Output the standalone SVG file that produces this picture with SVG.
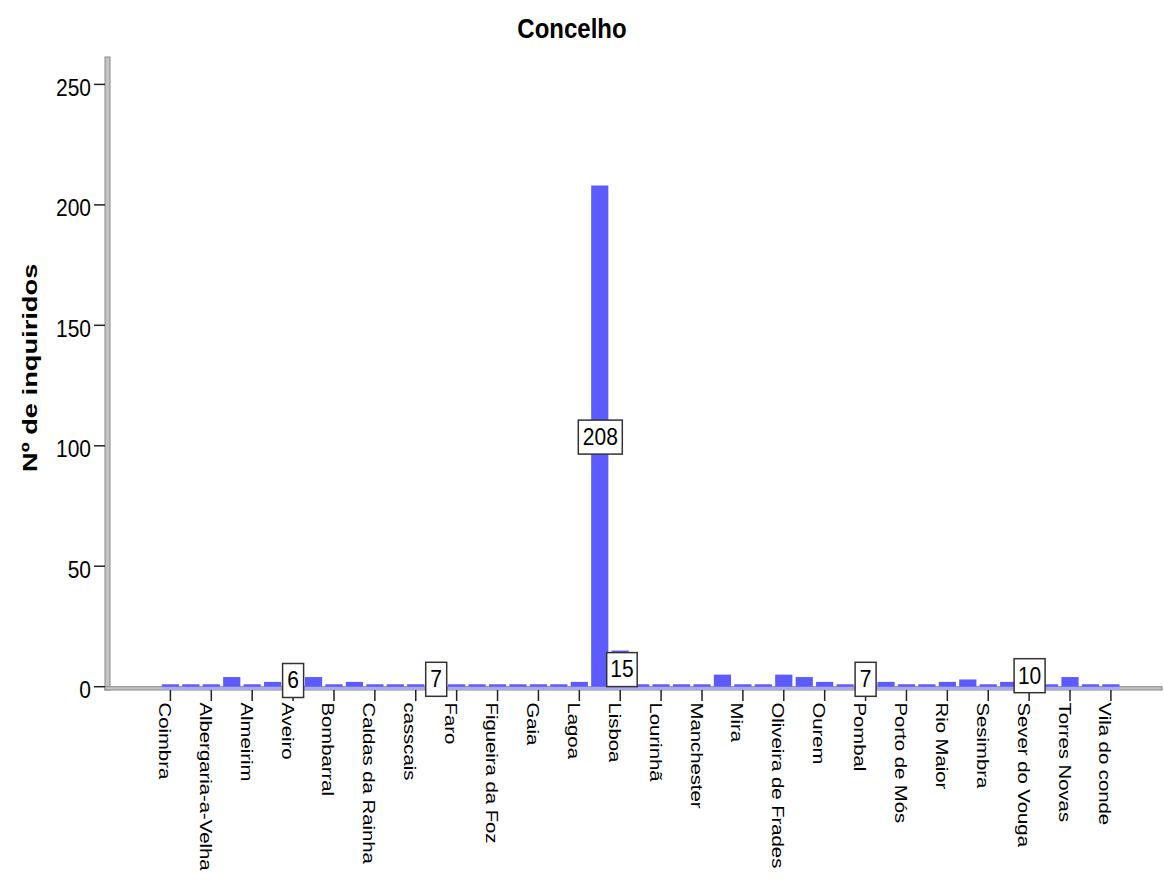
<svg xmlns="http://www.w3.org/2000/svg" width="1164" height="880" viewBox="0 0 1164 880">
<style>
.t{font-family:"Liberation Sans",Arial,sans-serif;fill:#000}
.bar{fill:#5b5bff}
.tk{stroke:#222;stroke-width:1.5}
.ax{fill:#c4c4c4;stroke:#888;stroke-width:1}
.box{fill:#fff;stroke:#333;stroke-width:1.5}
.xl{font-size:16px}
.yl{font-size:21px;text-anchor:end}
.bl{font-size:21px;text-anchor:middle}
</style>
<rect width="1164" height="880" fill="#fff"/>
<g id="title"><text class="t" transform="translate(572,38) scale(1,1.18)" font-size="24" font-weight="bold" text-anchor="middle">Concelho</text></g>
<g id="y-title"><text class="t" transform="translate(37,472) rotate(-90) scale(1.33,1)" font-size="20.5" font-weight="bold">Nº de inquiridos</text></g>
<g id="axes">
<rect class="ax" x="105" y="57" width="5" height="633"/>
<rect class="ax" x="105" y="686.7" width="1057" height="3.3"/>
<g id="y-ticks">
<line class="tk" x1="94" y1="686.7" x2="105" y2="686.7"/>
<line class="tk" x1="94" y1="566.2" x2="105" y2="566.2"/>
<line class="tk" x1="94" y1="445.8" x2="105" y2="445.8"/>
<line class="tk" x1="94" y1="325.3" x2="105" y2="325.3"/>
<line class="tk" x1="94" y1="204.9" x2="105" y2="204.9"/>
<line class="tk" x1="94" y1="84.4" x2="105" y2="84.4"/>
<text class="t yl" transform="translate(91,698.2) scale(1,1.1)">0</text>
<text class="t yl" transform="translate(91,577.7) scale(1,1.1)">50</text>
<text class="t yl" transform="translate(91,457.3) scale(1,1.1)">100</text>
<text class="t yl" transform="translate(91,336.8) scale(1,1.1)">150</text>
<text class="t yl" transform="translate(91,216.4) scale(1,1.1)">200</text>
<text class="t yl" transform="translate(91,95.9) scale(1,1.1)">250</text>
</g>
</g>
<g id="bars">
<rect class="bar" x="161.8" y="684.29" width="17.2" height="2.41"/>
<rect class="bar" x="182.25" y="684.29" width="17.2" height="2.41"/>
<rect class="bar" x="202.69" y="684.29" width="17.2" height="2.41"/>
<rect class="bar" x="223.14" y="677.06" width="17.2" height="9.64"/>
<rect class="bar" x="243.58" y="684.29" width="17.2" height="2.41"/>
<rect class="bar" x="264.03" y="681.88" width="17.2" height="4.82"/>
<rect class="bar" x="284.48" y="672.24" width="17.2" height="14.46"/>
<rect class="bar" x="304.92" y="677.06" width="17.2" height="9.64"/>
<rect class="bar" x="325.37" y="684.29" width="17.2" height="2.41"/>
<rect class="bar" x="345.81" y="681.88" width="17.2" height="4.82"/>
<rect class="bar" x="366.26" y="684.29" width="17.2" height="2.41"/>
<rect class="bar" x="386.71" y="684.29" width="17.2" height="2.41"/>
<rect class="bar" x="407.15" y="684.29" width="17.2" height="2.41"/>
<rect class="bar" x="427.60" y="669.83" width="17.2" height="16.87"/>
<rect class="bar" x="448.04" y="684.29" width="17.2" height="2.41"/>
<rect class="bar" x="468.49" y="684.29" width="17.2" height="2.41"/>
<rect class="bar" x="488.94" y="684.29" width="17.2" height="2.41"/>
<rect class="bar" x="509.38" y="684.29" width="17.2" height="2.41"/>
<rect class="bar" x="529.83" y="684.29" width="17.2" height="2.41"/>
<rect class="bar" x="550.27" y="684.29" width="17.2" height="2.41"/>
<rect class="bar" x="570.72" y="681.88" width="17.2" height="4.82"/>
<rect class="bar" x="591.17" y="185.5" width="17.2" height="501.2"/>
<rect class="bar" x="611.61" y="650.55" width="17.2" height="36.15"/>
<rect class="bar" x="632.06" y="684.29" width="17.2" height="2.41"/>
<rect class="bar" x="652.50" y="684.29" width="17.2" height="2.41"/>
<rect class="bar" x="672.95" y="684.29" width="17.2" height="2.41"/>
<rect class="bar" x="693.40" y="684.29" width="17.2" height="2.41"/>
<rect class="bar" x="713.84" y="674.65" width="17.2" height="12.05"/>
<rect class="bar" x="734.29" y="684.29" width="17.2" height="2.41"/>
<rect class="bar" x="754.73" y="684.29" width="17.2" height="2.41"/>
<rect class="bar" x="775.18" y="674.65" width="17.2" height="12.05"/>
<rect class="bar" x="795.63" y="677.06" width="17.2" height="9.64"/>
<rect class="bar" x="816.07" y="681.88" width="17.2" height="4.82"/>
<rect class="bar" x="836.52" y="684.29" width="17.2" height="2.41"/>
<rect class="bar" x="856.96" y="669.83" width="17.2" height="16.87"/>
<rect class="bar" x="877.41" y="681.88" width="17.2" height="4.82"/>
<rect class="bar" x="897.86" y="684.29" width="17.2" height="2.41"/>
<rect class="bar" x="918.30" y="684.29" width="17.2" height="2.41"/>
<rect class="bar" x="938.75" y="681.88" width="17.2" height="4.82"/>
<rect class="bar" x="959.19" y="679.47" width="17.2" height="7.23"/>
<rect class="bar" x="979.64" y="684.29" width="17.2" height="2.41"/>
<rect class="bar" x="1000.09" y="681.88" width="17.2" height="4.82"/>
<rect class="bar" x="1020.53" y="662.6" width="17.2" height="24.1"/>
<rect class="bar" x="1040.98" y="684.29" width="17.2" height="2.41"/>
<rect class="bar" x="1061.42" y="677.06" width="17.2" height="9.64"/>
<rect class="bar" x="1081.87" y="684.29" width="17.2" height="2.41"/>
<rect class="bar" x="1102.32" y="684.29" width="17.2" height="2.41"/>
<rect x="161.8" y="686.9" width="957.7" height="3" fill="#a9a9ec"/>
</g>
<g id="x-ticks">
<line class="tk" x1="170.4" y1="690" x2="170.4" y2="701"/>
<line class="tk" x1="211.29" y1="690" x2="211.29" y2="701"/>
<line class="tk" x1="252.18" y1="690" x2="252.18" y2="701"/>
<line class="tk" x1="293.08" y1="690" x2="293.08" y2="701"/>
<line class="tk" x1="333.97" y1="690" x2="333.97" y2="701"/>
<line class="tk" x1="374.86" y1="690" x2="374.86" y2="701"/>
<line class="tk" x1="415.75" y1="690" x2="415.75" y2="701"/>
<line class="tk" x1="456.64" y1="690" x2="456.64" y2="701"/>
<line class="tk" x1="497.54" y1="690" x2="497.54" y2="701"/>
<line class="tk" x1="538.43" y1="690" x2="538.43" y2="701"/>
<line class="tk" x1="579.32" y1="690" x2="579.32" y2="701"/>
<line class="tk" x1="620.21" y1="690" x2="620.21" y2="701"/>
<line class="tk" x1="661.10" y1="690" x2="661.10" y2="701"/>
<line class="tk" x1="702.00" y1="690" x2="702.00" y2="701"/>
<line class="tk" x1="742.89" y1="690" x2="742.89" y2="701"/>
<line class="tk" x1="783.78" y1="690" x2="783.78" y2="701"/>
<line class="tk" x1="824.67" y1="690" x2="824.67" y2="701"/>
<line class="tk" x1="865.56" y1="690" x2="865.56" y2="701"/>
<line class="tk" x1="906.46" y1="690" x2="906.46" y2="701"/>
<line class="tk" x1="947.35" y1="690" x2="947.35" y2="701"/>
<line class="tk" x1="988.24" y1="690" x2="988.24" y2="701"/>
<line class="tk" x1="1029.13" y1="690" x2="1029.13" y2="701"/>
<line class="tk" x1="1070.02" y1="690" x2="1070.02" y2="701"/>
<line class="tk" x1="1110.92" y1="690" x2="1110.92" y2="701"/>
</g>
<g id="x-labels">
<text class="t xl" transform="translate(158.9,702.5) rotate(90) scale(1.27,1)">Coimbra</text>
<text class="t xl" transform="translate(199.79,702.5) rotate(90) scale(1.27,1)">Albergaria-a-Velha</text>
<text class="t xl" transform="translate(240.68,702.5) rotate(90) scale(1.27,1)">Almeirim</text>
<text class="t xl" transform="translate(281.58,702.5) rotate(90) scale(1.27,1)">Aveiro</text>
<text class="t xl" transform="translate(322.47,702.5) rotate(90) scale(1.27,1)">Bombarral</text>
<text class="t xl" transform="translate(363.36,702.5) rotate(90) scale(1.27,1)">Caldas da Rainha</text>
<text class="t xl" transform="translate(404.25,702.5) rotate(90) scale(1.27,1)">casscais</text>
<text class="t xl" transform="translate(445.14,702.5) rotate(90) scale(1.27,1)">Faro</text>
<text class="t xl" transform="translate(486.04,702.5) rotate(90) scale(1.27,1)">Figueira da Foz</text>
<text class="t xl" transform="translate(526.93,702.5) rotate(90) scale(1.27,1)">Gaia</text>
<text class="t xl" transform="translate(567.82,702.5) rotate(90) scale(1.27,1)">Lagoa</text>
<text class="t xl" transform="translate(608.71,702.5) rotate(90) scale(1.27,1)">Lisboa</text>
<text class="t xl" transform="translate(649.60,702.5) rotate(90) scale(1.27,1)">Lourinhã</text>
<text class="t xl" transform="translate(690.50,702.5) rotate(90) scale(1.27,1)">Manchester</text>
<text class="t xl" transform="translate(731.39,702.5) rotate(90) scale(1.27,1)">Mira</text>
<text class="t xl" transform="translate(772.28,702.5) rotate(90) scale(1.27,1)">Oliveira de Frades</text>
<text class="t xl" transform="translate(813.17,702.5) rotate(90) scale(1.27,1)">Ourem</text>
<text class="t xl" transform="translate(854.06,702.5) rotate(90) scale(1.27,1)">Pombal</text>
<text class="t xl" transform="translate(894.96,702.5) rotate(90) scale(1.27,1)">Porto de Mós</text>
<text class="t xl" transform="translate(935.85,702.5) rotate(90) scale(1.27,1)">Rio Maior</text>
<text class="t xl" transform="translate(976.74,702.5) rotate(90) scale(1.27,1)">Sesimbra</text>
<text class="t xl" transform="translate(1017.63,702.5) rotate(90) scale(1.27,1)">Sever do Vouga</text>
<text class="t xl" transform="translate(1058.52,702.5) rotate(90) scale(1.27,1)">Torres Novas</text>
<text class="t xl" transform="translate(1099.42,702.5) rotate(90) scale(1.27,1)">Vila do conde</text>
</g>
<g id="data-labels">
<rect class="box" x="282.6" y="663.5" width="21" height="34"/>
<text class="t bl" transform="translate(293.08,688.3) scale(1,1.15)">6</text>
<rect class="box" x="425.7" y="662.3" width="21" height="34"/>
<text class="t bl" transform="translate(436.2,687.1) scale(1,1.15)">7</text>
<rect class="box" x="578.3" y="420.1" width="44" height="34"/>
<text class="t bl" transform="translate(600.3,444.9) scale(1,1.15)">208</text>
<rect class="box" x="606.7" y="652.6" width="30.5" height="34"/>
<text class="t bl" transform="translate(622,677.4) scale(1,1.15)">15</text>
<rect class="box" x="855.1" y="662.3" width="21" height="34"/>
<text class="t bl" transform="translate(865.6,687.1) scale(1,1.15)">7</text>
<rect class="box" x="1014.1" y="658.7" width="31" height="34"/>
<text class="t bl" transform="translate(1029.6,683.5) scale(1,1.15)">10</text>
</g>
</svg>
